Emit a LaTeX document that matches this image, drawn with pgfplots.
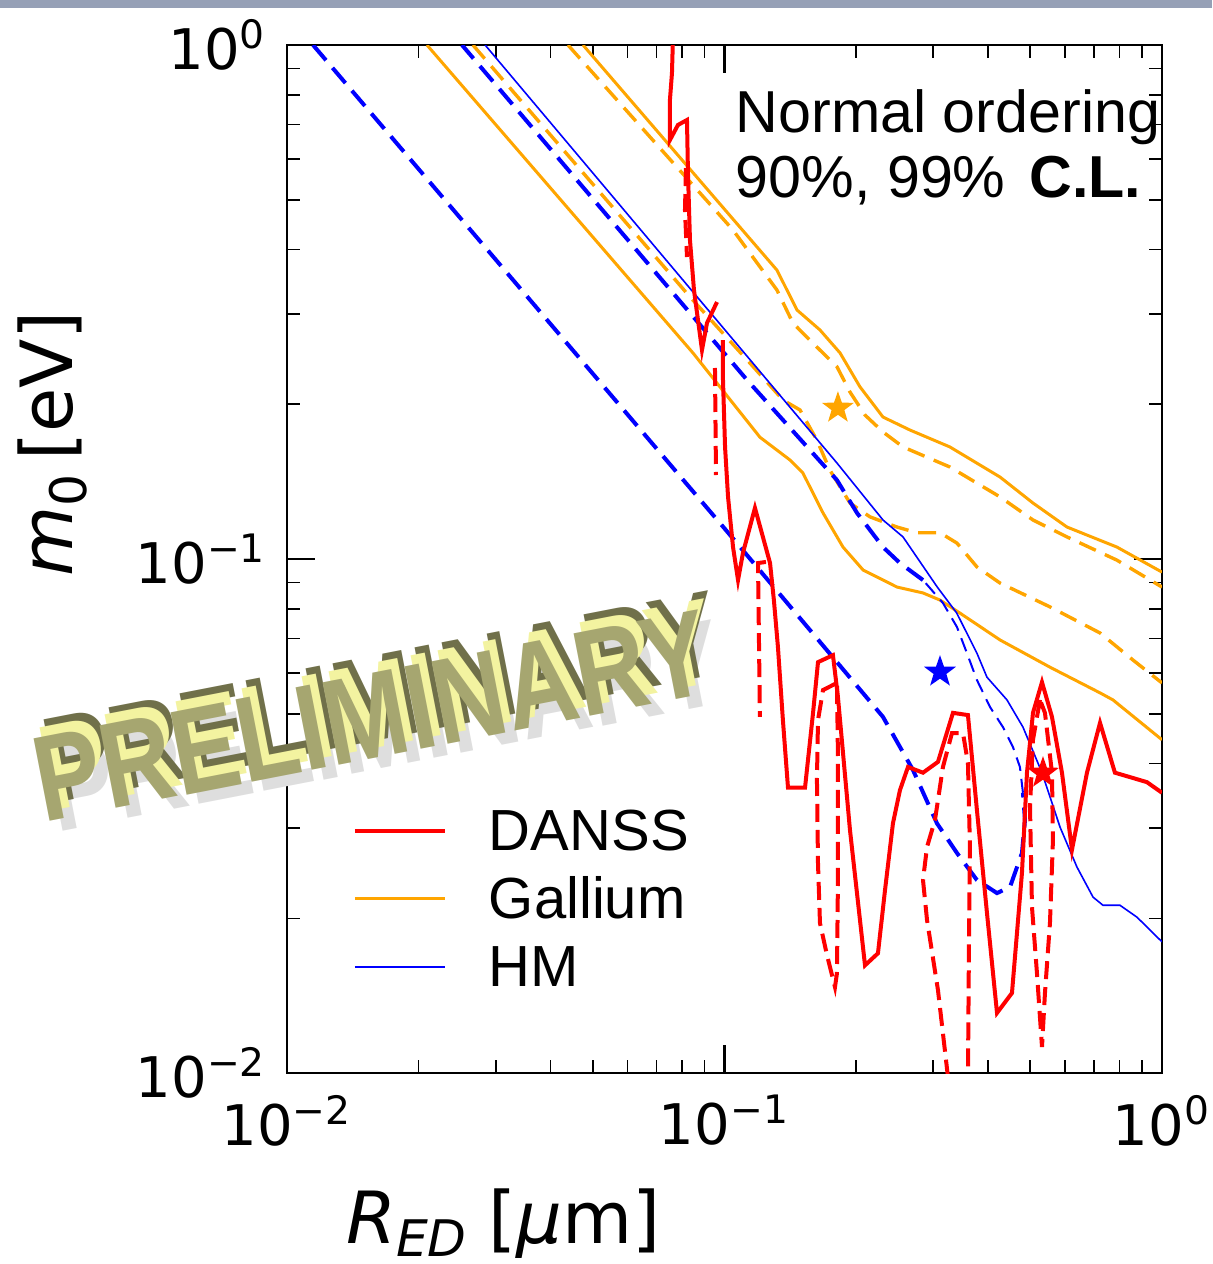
\documentclass[border=0pt]{standalone}
\usepackage{fontspec}
\setmainfont{Liberation Sans}
\newfontfamily\dejavu{DejaVu Sans}
\usepackage{pgfplots}
\pgfplotsset{compat=1.18}
\definecolor{morange}{RGB}{255,165,0}
\definecolor{mred}{RGB}{255,0,0}
\definecolor{mblue}{RGB}{0,0,255}
\definecolor{prefront}{RGB}{166,166,112}
\definecolor{preside}{RGB}{243,243,160}
\definecolor{pretop}{RGB}{112,112,74}
\definecolor{topbar}{RGB}{150,160,182}
\pgfdeclareplotmark{fstar}{%
  \pgfpathmoveto{\pgfpointpolar{90}{\pgfplotmarksize}}%
  \pgfpathlineto{\pgfpointpolar{126}{0.4*\pgfplotmarksize}}%
  \pgfpathlineto{\pgfpointpolar{162}{\pgfplotmarksize}}%
  \pgfpathlineto{\pgfpointpolar{198}{0.4*\pgfplotmarksize}}%
  \pgfpathlineto{\pgfpointpolar{234}{\pgfplotmarksize}}%
  \pgfpathlineto{\pgfpointpolar{270}{0.4*\pgfplotmarksize}}%
  \pgfpathlineto{\pgfpointpolar{306}{\pgfplotmarksize}}%
  \pgfpathlineto{\pgfpointpolar{342}{0.4*\pgfplotmarksize}}%
  \pgfpathlineto{\pgfpointpolar{18}{\pgfplotmarksize}}%
  \pgfpathlineto{\pgfpointpolar{54}{0.4*\pgfplotmarksize}}%
  \pgfpathclose\pgfusepathqfill}
\newcommand{\tl}[1]{10\textsuperscript{#1}}
\begin{document}
\begin{tikzpicture}
\useasboundingbox (0,0) rectangle (303pt,316pt);
\fill[topbar] (0,314pt) rectangle (303pt,316pt);
\begin{axis}[
  at={(71.75pt,47.75pt)}, anchor=south west,
  width=218.75pt, height=257pt, scale only axis,
  xmode=log, ymode=log,
  xmin=0.01, xmax=1, ymin=0.01, ymax=1,
  xtick={0.01,0.1,1}, ytick={0.01,0.1,1},
  xticklabels={\tl{−2},\tl{−1},\tl{0}},
  yticklabels={\tl{−2},\tl{−1},\tl{0}},
  minor xtick={0.02,0.03,0.04,0.05,0.06,0.07,0.08,0.09,0.2,0.3,0.4,0.5,0.6,0.7,0.8,0.9},
  minor ytick={0.02,0.03,0.04,0.05,0.06,0.07,0.08,0.09,0.2,0.3,0.4,0.5,0.6,0.7,0.8,0.9},
  tick align=inside, tick pos=both,
  major tick length=7pt, minor tick length=3.3pt,
  every major tick/.style={black, line width=0.55pt},
  every minor tick/.style={black, line width=0.4pt},
  axis line style={line width=0.6pt},
  tick label style={font=\dejavu\fontsize{14}{16}\selectfont},
  xticklabel style={yshift=-2pt},
  yticklabel style={xshift=-1.5pt},
  xlabel={{\dejavu\itshape R}\textsubscript{\dejavu\itshape ED}\ {\dejavu [{\itshape μ}m]}},
  ylabel={{\dejavu\itshape m}\textsubscript{\dejavu 0}\,{\dejavu [eV]}},
  xlabel style={font=\fontsize{18}{20}\selectfont, at={(axis description cs:0.2474,-0.166)}, anchor=base},
  ylabel style={font=\fontsize{18}{20}\selectfont, at={(axis description cs:-0.2446,0.612)}, anchor=base, rotate=0},
  legend style={at={(axis description cs:0.0745,0.2617)}, anchor=north west, draw=none, fill=none,
    font=\fontsize{14.5}{17}\selectfont, row sep=0pt, inner sep=0pt, column sep=10.5pt,
    nodes={inner sep=0pt, text height=11.5pt, text depth=5.5pt}},
  legend cell align=left,
  legend image code/.code={\draw[#1] (0pt,2pt) -- (22.5pt,2pt);},
]
\addlegendimage{mred, line width=1pt}
\addlegendentry{DANSS}
\addlegendimage{morange, line width=0.8pt}
\addlegendentry{Gallium}
\addlegendimage{mblue, line width=0.55pt}
\addlegendentry{HM}

% ---- Gallium (orange)
\addplot[morange, line width=0.75pt, forget plot] coordinates {
(0.02089,1.0) (0.08472,0.2517) (0.1205,0.1726) (0.1412,0.1558) (0.1511,0.1470)
(0.1680,0.1229) (0.1866,0.1055) (0.2074,0.0952) (0.2479,0.0882) (0.2843,0.0859)
(0.3109,0.0832) (0.3453,0.0785) (0.4263,0.0696) (0.5546,0.0616) (0.7218,0.0549)
(0.7727,0.0532) (1.0,0.0445)};
\addplot[morange, line width=0.75pt, forget plot] coordinates {
(0.04749,1.0) (0.1318,0.3648) (0.1465,0.3051) (0.1653,0.2790) (0.1837,0.2518)
(0.2040,0.2163) (0.2303,0.1889) (0.2655,0.1782) (0.3276,0.1652) (0.4263,0.1444)
(0.5072,0.1285) (0.6066,0.1154) (0.7888,0.1055) (1.0,0.0943)};
\addplot[morange, line width=0.85pt, dash pattern=on 4.5pt off 2.5pt, forget plot] coordinates {
(0.04388,1.0) (0.0676,0.6622) (0.1046,0.4365) (0.1318,0.3337) (0.1434,0.2877)
(0.1626,0.2585) (0.1808,0.2366) (0.1936,0.2113) (0.2095,0.1906) (0.2303,0.1767)
(0.2559,0.1652) (0.3276,0.1510) (0.4263,0.1321) (0.5072,0.1191) (0.6066,0.1104)
(0.7888,0.0995) (1.0,0.0882)};
\addplot[morange, line width=0.85pt, dash pattern=on 4.5pt off 2.5pt, forget plot] coordinates {
(0.02661,1.0) (0.08339,0.3236) (0.1144,0.2404) (0.1361,0.2038) (0.1488,0.1950)
(0.1626,0.1704) (0.1742,0.1489) (0.1936,0.1285) (0.2150,0.1208) (0.2479,0.1154)
(0.2754,0.1125) (0.3109,0.1125) (0.3399,0.1074) (0.3777,0.0965) (0.4263,0.0898)
(0.5546,0.0807) (0.7218,0.0718) (0.8586,0.0636) (1.0,0.0574)};

% ---- HM (blue)
\addplot[mblue, line width=0.4pt, forget plot] coordinates {
(0.02837,1.0) (0.1807,0.1538) (0.2303,0.1191) (0.2559,0.1104) (0.3062,0.0883)
(0.3396,0.0785) (0.3776,0.0656) (0.3981,0.0589) (0.4423,0.0532) (0.4811,0.0471)
(0.5318,0.0384) (0.5847,0.0301) (0.6393,0.02516) (0.6957,0.02199) (0.7332,0.0212)
(0.8017,0.0212) (0.8768,0.0201) (1.0,0.0180)};
\addplot[mblue, line width=1pt, dash pattern=on 5pt off 2.5pt, forget plot] coordinates {
(0.01147,1.0) (0.1,0.1147) (0.2303,0.0493) (0.2697,0.03886) (0.3060,0.0306)
(0.3400,0.02679) (0.3776,0.02374) (0.4197,0.02239) (0.4494,0.02301) (0.4786,0.02679)
(0.4863,0.03106) (0.4811,0.0351)};
\addplot[mblue, line width=0.5pt, dash pattern=on 3.5pt off 2pt, forget plot] coordinates {
(0.4811,0.0351) (0.4735,0.0394) (0.4564,0.04308) (0.4330,0.0471) (0.4045,0.05154)
(0.3776,0.05816) (0.3583,0.0656) (0.3400,0.07373) (0.3158,0.08212) (0.2843,0.0910)};
\addplot[mblue, line width=1pt, dash pattern=on 5pt off 2.5pt, forget plot] coordinates {
(0.2843,0.0910) (0.2518,0.0982) (0.2303,0.1055) (0.2009,0.1229) (0.1808,0.1424)
(0.1126,0.2230) (0.02512,1.0)};

% ---- DANSS (red)
\addplot[mred, line width=1pt, forget plot] coordinates {
(0.0763,1.05) (0.07586,0.8822) (0.07506,0.7816) (0.07506,0.6534) (0.0783,0.6990)
(0.08209,0.7147) (0.08252,0.5636) (0.08339,0.4175) (0.08517,0.3337) (0.08884,0.2551)
(0.0912,0.2878) (0.09614,0.3162)};
\addplot[mred, line width=1pt, forget plot] coordinates {
(0.09922,0.2667) (0.09922,0.2230) (0.1003,0.1652) (0.1019,0.1320) (0.1046,0.1055)
(0.1074,0.0910) (0.1102,0.1027) (0.1174,0.1257) (0.1244,0.1050) (0.1271,0.0982)
(0.1297,0.0832) (0.1325,0.0674) (0.1360,0.0486) (0.1397,0.0359) (0.1528,0.0359)
(0.1594,0.0502) (0.1636,0.0630) (0.1770,0.0650) (0.1817,0.0539) (0.1936,0.0297)
(0.2095,0.0162) (0.2243,0.0171) (0.2328,0.0227) (0.2427,0.0306) (0.2518,0.0355)
(0.2627,0.0394) (0.2843,0.0384) (0.3076,0.0403) (0.3329,0.0502) (0.3602,0.0497)
(0.3776,0.0325) (0.3981,0.0205) (0.4197,0.01309) (0.4541,0.01431) (0.4786,0.0245)
(0.4914,0.0384) (0.5072,0.0502) (0.5318,0.0576) (0.5605,0.0493) (0.5908,0.0384)
(0.6228,0.0272) (0.6739,0.0384) (0.7218,0.0480) (0.7807,0.0384) (0.8586,0.0375)
(0.9241,0.0368) (1.0,0.0351)};
\addplot[mred, line width=1pt, dash pattern=on 4.5pt off 2pt, forget plot] coordinates {
(0.08166,0.5763) (0.08123,0.4775) (0.08209,0.3869)};
\addplot[mred, line width=1pt, dash pattern=on 4.5pt off 2pt, forget plot] coordinates {
(0.09512,0.2353) (0.09563,0.1457)};
\addplot[mred, line width=1pt, dash pattern=on 4.5pt off 2pt, forget plot] coordinates {
(0.1244,0.0987) (0.1193,0.0982) (0.1199,0.0696) (0.1205,0.0493)};
\addplot[mred, line width=1pt, dash pattern=on 4.5pt off 2pt, forget plot] coordinates {
(0.1808,0.0574) (0.1680,0.0556) (0.1636,0.0486) (0.1627,0.0372) (0.1636,0.0256)
(0.1653,0.01958) (0.1715,0.01697) (0.1789,0.0147) (0.1808,0.01565) (0.1817,0.02374)
(0.1817,0.0412) (0.1808,0.0574)};
\addplot[mred, line width=1pt, dash pattern=on 4.5pt off 2pt, forget plot] coordinates {
(0.3243,0.0098) (0.3076,0.0145) (0.2904,0.01985) (0.2843,0.02374) (0.2904,0.02753)
(0.3028,0.03106) (0.3158,0.0394) (0.3311,0.04586) (0.3509,0.04586) (0.3602,0.0401)
(0.3640,0.02753) (0.3621,0.01759) (0.3602,0.0098)};
\addplot[mred, line width=1pt, dash pattern=on 4.5pt off 2pt, forget plot] coordinates {
(0.5262,0.0532) (0.5072,0.0445) (0.4993,0.03293) (0.5045,0.02104) (0.5179,0.01565)
(0.5318,0.01124) (0.5402,0.01431) (0.5546,0.01958) (0.5634,0.0284) (0.5605,0.0384)
(0.5402,0.0502) (0.5262,0.0532)};

% ---- best fit points
\addplot[only marks, mark=fstar, mark size=4.2pt, color=morange, forget plot] coordinates {(0.1817,0.1967)};
\addplot[only marks, mark=fstar, mark size=4.2pt, color=mblue, forget plot] coordinates {(0.3109,0.0603)};
\addplot[only marks, mark=fstar, mark size=4.2pt, color=mred, forget plot] coordinates {(0.5346,0.03835)};
\end{axis}

\node[anchor=base west, inner sep=0pt, font=\fontsize{14.8}{17}\selectfont] at (183.75pt,282.75pt) {Normal ordering};
\node[anchor=base west, inner sep=0pt, font=\fontsize{14.8}{17}\selectfont] at (183.75pt,266.5pt) {90\%, 99\%\hspace{0.4em}\textbf{C.L.}};

\begin{scope}[shift={(93pt,137pt)}, rotate=11, yscale=1.22, transform shape]
  \node[font=\fontsize{25}{25}\selectfont\bfseries, text=black!13] at (2.6pt,-2.4pt) {PRELIMINARY};
  \node[font=\fontsize{25}{25}\selectfont\bfseries, text=pretop] at (3.3pt,3.4pt) {PRELIMINARY};
  \node[font=\fontsize{25}{25}\selectfont\bfseries, text=preside] at (1.9pt,2.0pt) {PRELIMINARY};
  \node[font=\fontsize{25}{25}\selectfont\bfseries, text=prefront] at (0,0) {PRELIMINARY};
\end{scope}
\end{tikzpicture}
\end{document}
